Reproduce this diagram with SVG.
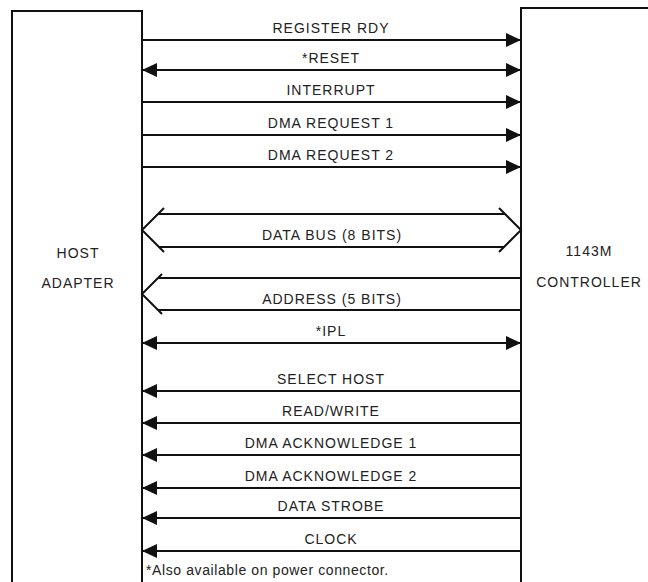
<svg xmlns="http://www.w3.org/2000/svg" width="648" height="582" viewBox="0 0 648 582">
<defs>
<style>
.box{fill:#fff;stroke:#111;stroke-width:2}
.sig{stroke:#111;stroke-width:2;fill:none}
.bus{stroke:#111;stroke-width:2;fill:none;stroke-linejoin:miter}
text{font-family:"Liberation Sans",Arial,sans-serif;font-size:14px;fill:#222;letter-spacing:1px}
.lbl{text-anchor:middle}
.foot{letter-spacing:0.6px}
</style>
<marker id="ah" markerUnits="userSpaceOnUse" markerWidth="16" markerHeight="14" refX="15" refY="7" orient="auto-start-reverse">
<path d="M0,0 L15,7 L0,14 z" fill="#111"/>
</marker>
</defs>
<rect width="648" height="582" fill="#fff"/>
<g id="host-adapter">
<path class="box" d="M12,590 L12,11 L142,11 L142,590"/>
<text class="lbl" x="78" y="258">HOST</text>
<text class="lbl" x="78" y="288">ADAPTER</text>
</g>
<g id="controller">
<path class="box" d="M660,8 L521,8 L521,590"/>
<text class="lbl" x="589" y="256">1143M</text>
<text class="lbl" x="589" y="287">CONTROLLER</text>
</g>
<g id="connectors">
<line class="sig" x1="142" y1="40" x2="521" y2="40" marker-end="url(#ah)"/>
<line class="sig" x1="142" y1="70" x2="521" y2="70" marker-start="url(#ah)" marker-end="url(#ah)"/>
<line class="sig" x1="142" y1="102" x2="521" y2="102" marker-end="url(#ah)"/>
<line class="sig" x1="142" y1="135" x2="521" y2="135" marker-end="url(#ah)"/>
<line class="sig" x1="142" y1="167" x2="521" y2="167" marker-end="url(#ah)"/>
<path class="bus" d="M164,208 L142,230 L164,252 M158,214 L505,214 M159,247 L504,247 M499,208 L521,230 L499,252"/>
<path class="bus" d="M162,274 L142,294 L162,314 M158,278 L521,278 M158,310 L521,310"/>
<line class="sig" x1="142" y1="343" x2="521" y2="343" marker-start="url(#ah)" marker-end="url(#ah)"/>
<line class="sig" x1="521" y1="391" x2="142" y2="391" marker-end="url(#ah)"/>
<line class="sig" x1="521" y1="423" x2="142" y2="423" marker-end="url(#ah)"/>
<line class="sig" x1="521" y1="455" x2="142" y2="455" marker-end="url(#ah)"/>
<line class="sig" x1="521" y1="488" x2="142" y2="488" marker-end="url(#ah)"/>
<line class="sig" x1="521" y1="518" x2="142" y2="518" marker-end="url(#ah)"/>
<line class="sig" x1="521" y1="551" x2="142" y2="551" marker-end="url(#ah)"/>
</g>
<g id="labels">
<text class="lbl" x="331" y="33">REGISTER RDY</text>
<text class="lbl" x="331" y="63">*RESET</text>
<text class="lbl" x="331" y="95">INTERRUPT</text>
<text class="lbl" x="331" y="128">DMA REQUEST 1</text>
<text class="lbl" x="331" y="160">DMA REQUEST 2</text>
<text class="lbl" x="332" y="240">DATA BUS (8 BITS)</text>
<text class="lbl" x="332" y="304">ADDRESS (5 BITS)</text>
<text class="lbl" x="331" y="336">*IPL</text>
<text class="lbl" x="331" y="384">SELECT HOST</text>
<text class="lbl" x="331" y="416">READ/WRITE</text>
<text class="lbl" x="331" y="448">DMA ACKNOWLEDGE 1</text>
<text class="lbl" x="331" y="481">DMA ACKNOWLEDGE 2</text>
<text class="lbl" x="331" y="511">DATA STROBE</text>
<text class="lbl" x="331" y="544">CLOCK</text>
<text class="foot" x="146" y="575">*Also available on power connector.</text>
</g>
</svg>
